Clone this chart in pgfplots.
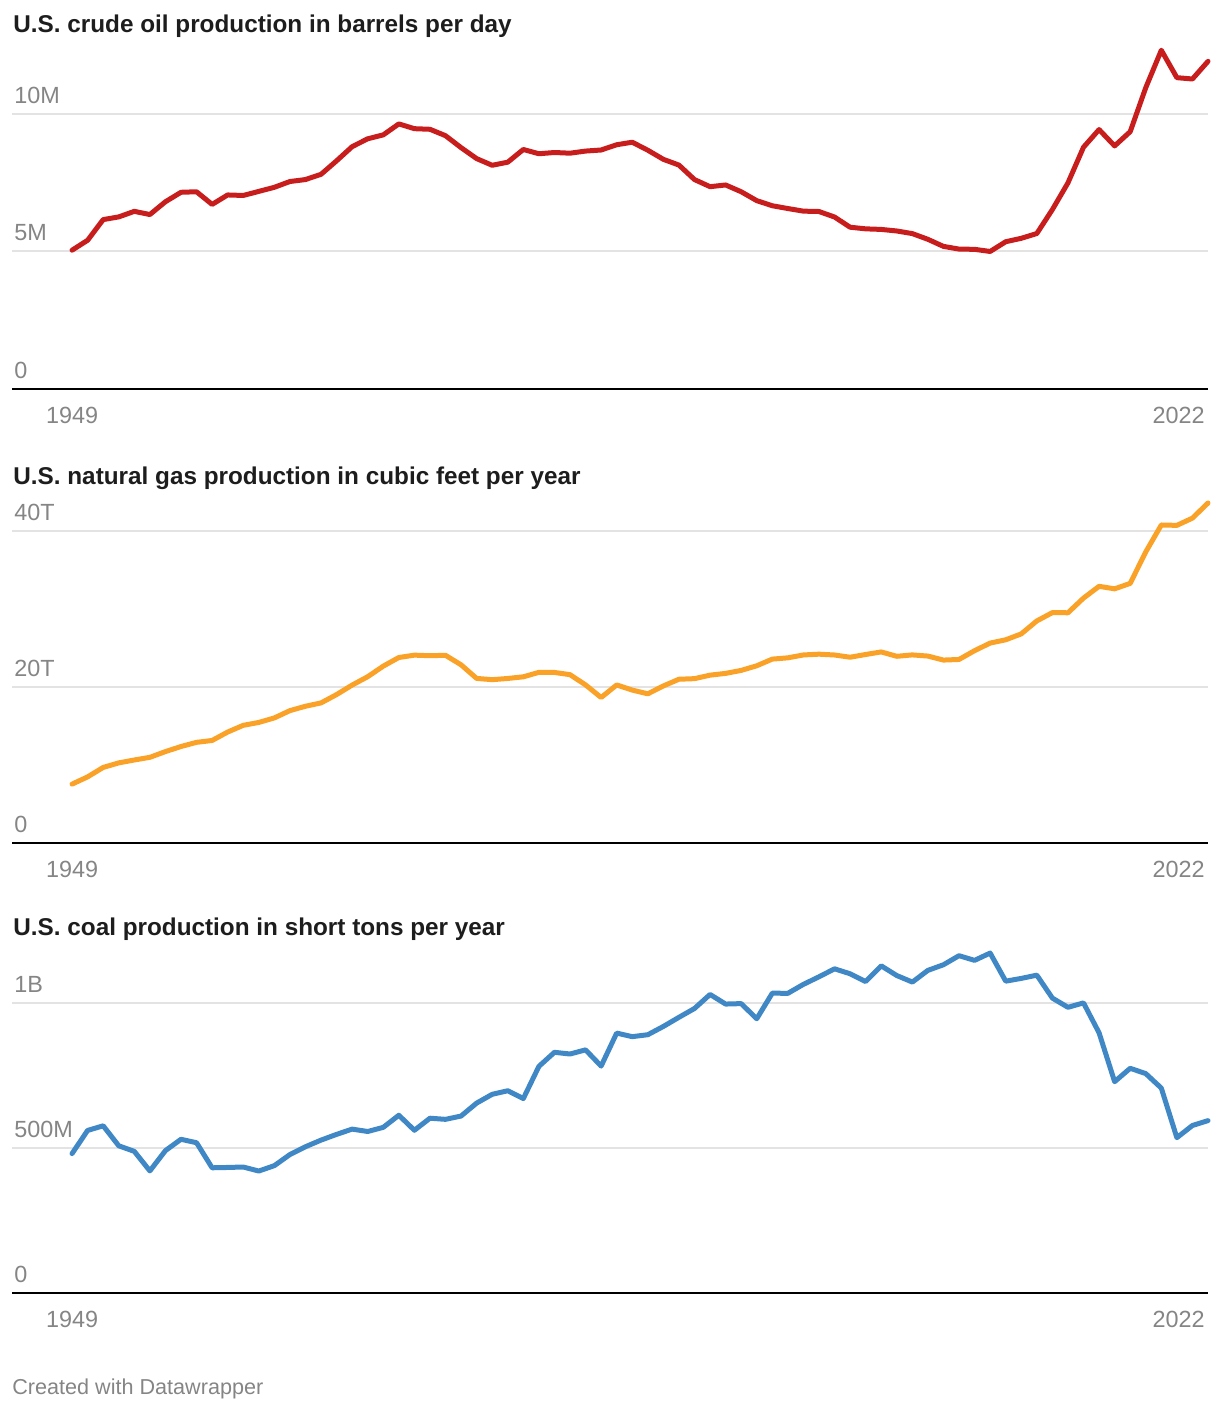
\documentclass[border=0pt]{standalone}
\usepackage{pgfplots}
\pgfplotsset{compat=1.18}
\usepackage{pgfplotstable}
\usepackage{fontspec}
\setmainfont{Liberation Sans}
\definecolor{oilred}{HTML}{C71E1D}
\definecolor{gasorange}{HTML}{FAA128}
\definecolor{coalblue}{HTML}{3F88C5}
\definecolor{labelgray}{HTML}{858585}
\definecolor{gridgray}{HTML}{E3E3E3}
\definecolor{titleblack}{HTML}{1D1D1D}

\pgfplotstableread{
year oil gas coal
1949 5.046 7.547 480.6
1950 5.407 8.480 560.4
1951 6.158 9.690 576.3
1952 6.256 10.273 507.4
1953 6.458 10.645 488.2
1954 6.342 10.985 420.8
1955 6.807 11.720 490.8
1956 7.151 12.373 529.8
1957 7.170 12.907 518.0
1958 6.710 13.147 431.6
1959 7.054 14.228 432.7
1960 7.035 15.088 434.3
1961 7.183 15.460 420.4
1962 7.332 16.039 439.0
1963 7.542 16.973 477.2
1964 7.614 17.536 504.2
1965 7.804 17.963 527.0
1966 8.295 19.033 546.8
1967 8.810 20.252 564.9
1968 9.096 21.327 556.7
1969 9.238 22.680 571.0
1970 9.637 23.786 612.7
1971 9.463 24.088 560.9
1972 9.441 24.017 602.5
1973 9.208 24.067 598.6
1974 8.774 22.850 610.0
1975 8.375 21.104 654.6
1976 8.132 20.944 684.9
1977 8.245 21.098 697.2
1978 8.707 21.310 670.2
1979 8.552 21.883 781.1
1980 8.597 21.870 829.7
1981 8.572 21.587 823.8
1982 8.649 20.272 838.1
1983 8.688 18.659 782.1
1984 8.879 20.267 895.9
1985 8.971 19.607 883.6
1986 8.680 19.131 890.3
1987 8.349 20.140 918.8
1988 8.140 20.999 950.3
1989 7.613 21.074 980.7
1990 7.355 21.523 1029.1
1991 7.417 21.750 996.0
1992 7.171 22.132 997.5
1993 6.847 22.726 945.4
1994 6.662 23.581 1033.5
1995 6.560 23.744 1033.0
1996 6.465 24.114 1063.9
1997 6.452 24.213 1089.9
1998 6.252 24.108 1117.5
1999 5.881 23.823 1100.4
2000 5.822 24.174 1073.6
2001 5.801 24.501 1127.7
2002 5.744 23.941 1094.3
2003 5.649 24.119 1071.8
2004 5.441 23.970 1112.1
2005 5.184 23.457 1131.5
2006 5.086 23.535 1162.7
2007 5.077 24.664 1146.6
2008 5.000 25.636 1171.8
2009 5.353 26.057 1074.9
2010 5.478 26.816 1084.4
2011 5.652 28.479 1095.6
2012 6.523 29.542 1016.5
2013 7.493 29.523 984.8
2014 8.789 31.405 1000.0
2015 9.431 32.915 896.9
2016 8.837 32.592 728.4
2017 9.354 33.292 774.6
2018 10.953 37.326 756.2
2019 12.315 40.780 706.3
2020 11.318 40.730 535.4
2021 11.269 41.660 577.4
2022 11.911 43.600 594.2
}\datatable

\newcommand{\ticklabelfont}{\fontsize{11.7pt}{13pt}\selectfont}
\newcommand{\titlefont}{\bfseries\fontsize{12.15pt}{14pt}\selectfont}

\pgfplotsset{
  dwpanel/.style={
    scale only axis, width=598pt, height=170pt,
    xmin=1945.14, xmax=2022, ymin=0,
    axis line style={draw=none},
    major tick length=0pt,
    tick style={draw=none},
    xtick={1949}, xticklabels={1949},
    extra x ticks={2022}, extra x tick labels={2022},
    extra x tick style={xmajorgrids=false, xticklabel style={anchor=north east, xshift=-1.5pt}},
    xticklabel style={font=\ticklabelfont, text=labelgray, inner sep=0pt, anchor=north, yshift=-8.8pt},
    yticklabel style={font=\ticklabelfont, text=labelgray, inner sep=0pt, anchor=south west, xshift=1pt, yshift=5pt},
    ymajorgrids, major grid style={gridgray, line width=1pt},
    extra y ticks={0}, extra y tick labels={0},
    extra y tick style={ymajorgrids=true, major grid style={black, line width=1pt}},
    clip=false,
  },
  dwline/.style={line width=2.5pt, line join=round, line cap=round, mark=none},
}

\begin{document}
\begin{tikzpicture}
\useasboundingbox (0pt,0pt) rectangle (610pt,705pt);

\begin{axis}[dwpanel, at={(6pt,510.5pt)}, anchor=south west,
  ymax=12.36, ytick={5,10}, yticklabels={5M,10M}]
  \addplot[dwline, oilred] table[x=year, y=oil] {\datatable};
\end{axis}

\begin{axis}[dwpanel, at={(6pt,283.5pt)}, anchor=south west,
  ymax=43.6, ytick={20,40}, yticklabels={20T,40T}]
  \addplot[dwline, gasorange] table[x=year, y=gas] {\datatable};
\end{axis}

\begin{axis}[dwpanel, at={(6pt,58.5pt)}, anchor=south west,
  ymax=1172, ytick={500,1000}, yticklabels={500M,1B}]
  \addplot[dwline, coalblue] table[x=year, y=coal] {\datatable};
\end{axis}

\node[anchor=base west, inner sep=0pt, font=\titlefont, text=titleblack] at (6.5pt,688.5pt) {U.S. crude oil production in barrels per day};
\node[anchor=base west, inner sep=0pt, font=\titlefont, text=titleblack] at (6.5pt,462.5pt) {U.S. natural gas production in cubic feet per year};
\node[anchor=base west, inner sep=0pt, font=\titlefont, text=titleblack] at (6.5pt,237pt) {U.S. coal production in short tons per year};
\node[anchor=base west, inner sep=0pt, font=\fontsize{10.8pt}{12pt}\selectfont, text=labelgray] at (6pt,8pt) {Created with Datawrapper};
\end{tikzpicture}
\end{document}
